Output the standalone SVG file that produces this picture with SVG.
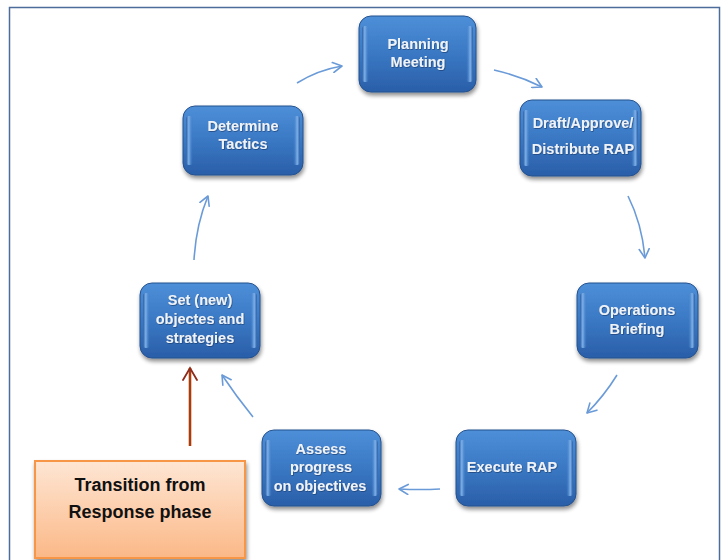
<svg xmlns="http://www.w3.org/2000/svg" width="723" height="560" viewBox="0 0 723 560">
<defs>
<linearGradient id="blue" x1="0" y1="0" x2="0" y2="1">
<stop offset="0" stop-color="#4e8fd8"/>
<stop offset="0.5" stop-color="#3a78c4"/>
<stop offset="1" stop-color="#2a5ea8"/>
</linearGradient>
<linearGradient id="edgeL" x1="0" y1="0" x2="1" y2="0">
<stop offset="0" stop-color="#2c5fa5"/>
<stop offset="0.4" stop-color="#7fb2ea"/>
<stop offset="1" stop-color="#3b78c3" stop-opacity="0"/>
</linearGradient>
<linearGradient id="edgeR" x1="1" y1="0" x2="0" y2="0">
<stop offset="0" stop-color="#2c5fa5"/>
<stop offset="0.4" stop-color="#7fb2ea"/>
<stop offset="1" stop-color="#3b78c3" stop-opacity="0"/>
</linearGradient>
<linearGradient id="orange" x1="0" y1="0" x2="0" y2="1">
<stop offset="0" stop-color="#fee6d4"/>
<stop offset="1" stop-color="#fbb887"/>
</linearGradient>
<filter id="sh" x="-10%" y="-10%" width="125%" height="130%">
<feGaussianBlur in="SourceAlpha" stdDeviation="2"/>
<feOffset dx="1" dy="3" result="b"/>
<feComponentTransfer><feFuncA type="linear" slope="0.45"/></feComponentTransfer>
<feMerge><feMergeNode/><feMergeNode in="SourceGraphic"/></feMerge>
</filter>
<filter id="ts"><feDropShadow dx="0.6" dy="0.8" stdDeviation="0.5" flood-color="#1a3b6b" flood-opacity="0.8"/></filter>
<marker id="ah" viewBox="0 0 12 12" refX="10" refY="6" markerWidth="12" markerHeight="12" markerUnits="userSpaceOnUse" orient="auto">
<path d="M1,1 L10,6 L1,11" fill="none" stroke="#6a9bd8" stroke-width="1.6" stroke-linecap="round" stroke-linejoin="round"/>
</marker>
<marker id="rh" viewBox="0 0 16 16" refX="14" refY="8" markerWidth="16" markerHeight="16" markerUnits="userSpaceOnUse" orient="auto">
<path d="M2,1 L14,8 L2,15" fill="none" stroke="#8c2a1c" stroke-width="1.8" stroke-linecap="round"/>
</marker>
</defs>
<style>
.box{fill:url(#blue);stroke:#24528f;stroke-width:1}
.el{fill:url(#edgeL)}
.er{fill:url(#edgeR)}
.t{font-family:"Liberation Sans",Arial,sans-serif;font-weight:bold;font-size:14.5px;fill:#eef3fa;text-anchor:middle}
.c{fill:none;stroke:#6a9bd8;stroke-width:1.6;marker-end:url(#ah)}
.ot{font-family:"Liberation Sans",Arial,sans-serif;font-weight:bold;font-size:18px;fill:#111111;text-anchor:middle}
</style>
<rect x="0" y="0" width="723" height="560" fill="#ffffff"/>
<rect x="9.5" y="7.5" width="710" height="570" fill="none" stroke="#4d6c9c" stroke-width="1.5"/>

<g id="connectors">
<path class="c" d="M297,83 Q318,70 342,66"/>
<path class="c" d="M494,70 Q520,76 542,87"/>
<path class="c" d="M628,196 Q642,224 645,258"/>
<path class="c" d="M617,375 Q604,396 587,413"/>
<path class="c" d="M440,489 Q420,490 399,489"/>
<path class="c" d="M253,417 Q236,396 222,375"/>
<path class="c" d="M194,260 Q196,225 208,196"/>
<path d="M190,446 L190,368" fill="none" stroke="#e8893f" stroke-width="3"/>
<path d="M190,446 L190,368" fill="none" stroke="#8c2a1c" stroke-width="1.6" marker-end="url(#rh)"/>
</g>

<g id="planning" filter="url(#sh)">
<rect class="box" x="359" y="16" width="117" height="76" rx="12"/>
<rect class="el" x="362" y="26" width="7" height="56" rx="3"/>
<rect class="er" x="466" y="26" width="7" height="56" rx="3"/>
<text class="t" filter="url(#ts)" x="418" y="49">Planning</text>
<text class="t" filter="url(#ts)" x="418" y="67">Meeting</text>
</g>

<g id="draft" filter="url(#sh)">
<rect class="box" x="520" y="100" width="121" height="76" rx="12"/>
<rect class="el" x="523" y="110" width="7" height="56" rx="3"/>
<rect class="er" x="631" y="110" width="7" height="56" rx="3"/>
<text class="t" filter="url(#ts)" x="583" y="128">Draft/Approve/</text>
<text class="t" filter="url(#ts)" x="583" y="154">Distribute RAP</text>
</g>

<g id="operations" filter="url(#sh)">
<rect class="box" x="577" y="283" width="121" height="75" rx="12"/>
<rect class="el" x="580" y="293" width="7" height="55" rx="3"/>
<rect class="er" x="688" y="293" width="7" height="55" rx="3"/>
<text class="t" filter="url(#ts)" x="637" y="315">Operations</text>
<text class="t" filter="url(#ts)" x="637" y="334">Briefing</text>
</g>

<g id="execute" filter="url(#sh)">
<rect class="box" x="456" y="430" width="120" height="76" rx="12"/>
<rect class="el" x="459" y="440" width="7" height="56" rx="3"/>
<rect class="er" x="566" y="440" width="7" height="56" rx="3"/>
<text class="t" filter="url(#ts)" x="512" y="472">Execute RAP</text>
</g>

<g id="assess" filter="url(#sh)">
<rect class="box" x="262" y="430" width="119" height="76" rx="12"/>
<rect class="el" x="265" y="440" width="7" height="56" rx="3"/>
<rect class="er" x="371" y="440" width="7" height="56" rx="3"/>
<text class="t" filter="url(#ts)" x="321" y="454">Assess</text>
<text class="t" filter="url(#ts)" x="321" y="472">progress</text>
<text class="t" filter="url(#ts)" x="320" y="491">on objectives</text>
</g>

<g id="set" filter="url(#sh)">
<rect class="box" x="140" y="283" width="120" height="75" rx="12"/>
<rect class="el" x="143" y="293" width="7" height="55" rx="3"/>
<rect class="er" x="250" y="293" width="7" height="55" rx="3"/>
<text class="t" filter="url(#ts)" x="200" y="305">Set (new)</text>
<text class="t" filter="url(#ts)" x="200" y="324">objectes and</text>
<text class="t" filter="url(#ts)" x="200" y="343">strategies</text>
</g>

<g id="determine" filter="url(#sh)">
<rect class="box" x="183" y="106" width="120" height="69" rx="12"/>
<rect class="el" x="186" y="116" width="7" height="49" rx="3"/>
<rect class="er" x="293" y="116" width="7" height="49" rx="3"/>
<text class="t" filter="url(#ts)" x="243" y="131">Determine</text>
<text class="t" filter="url(#ts)" x="243" y="149">Tactics</text>
</g>

<g id="transition">
<rect x="35" y="461" width="210" height="97" fill="url(#orange)" stroke="#f79646" stroke-width="2" filter="url(#sh)"/>
<text class="ot" x="140" y="491">Transition from</text>
<text class="ot" x="140" y="518">Response phase</text>
</g>
</svg>
